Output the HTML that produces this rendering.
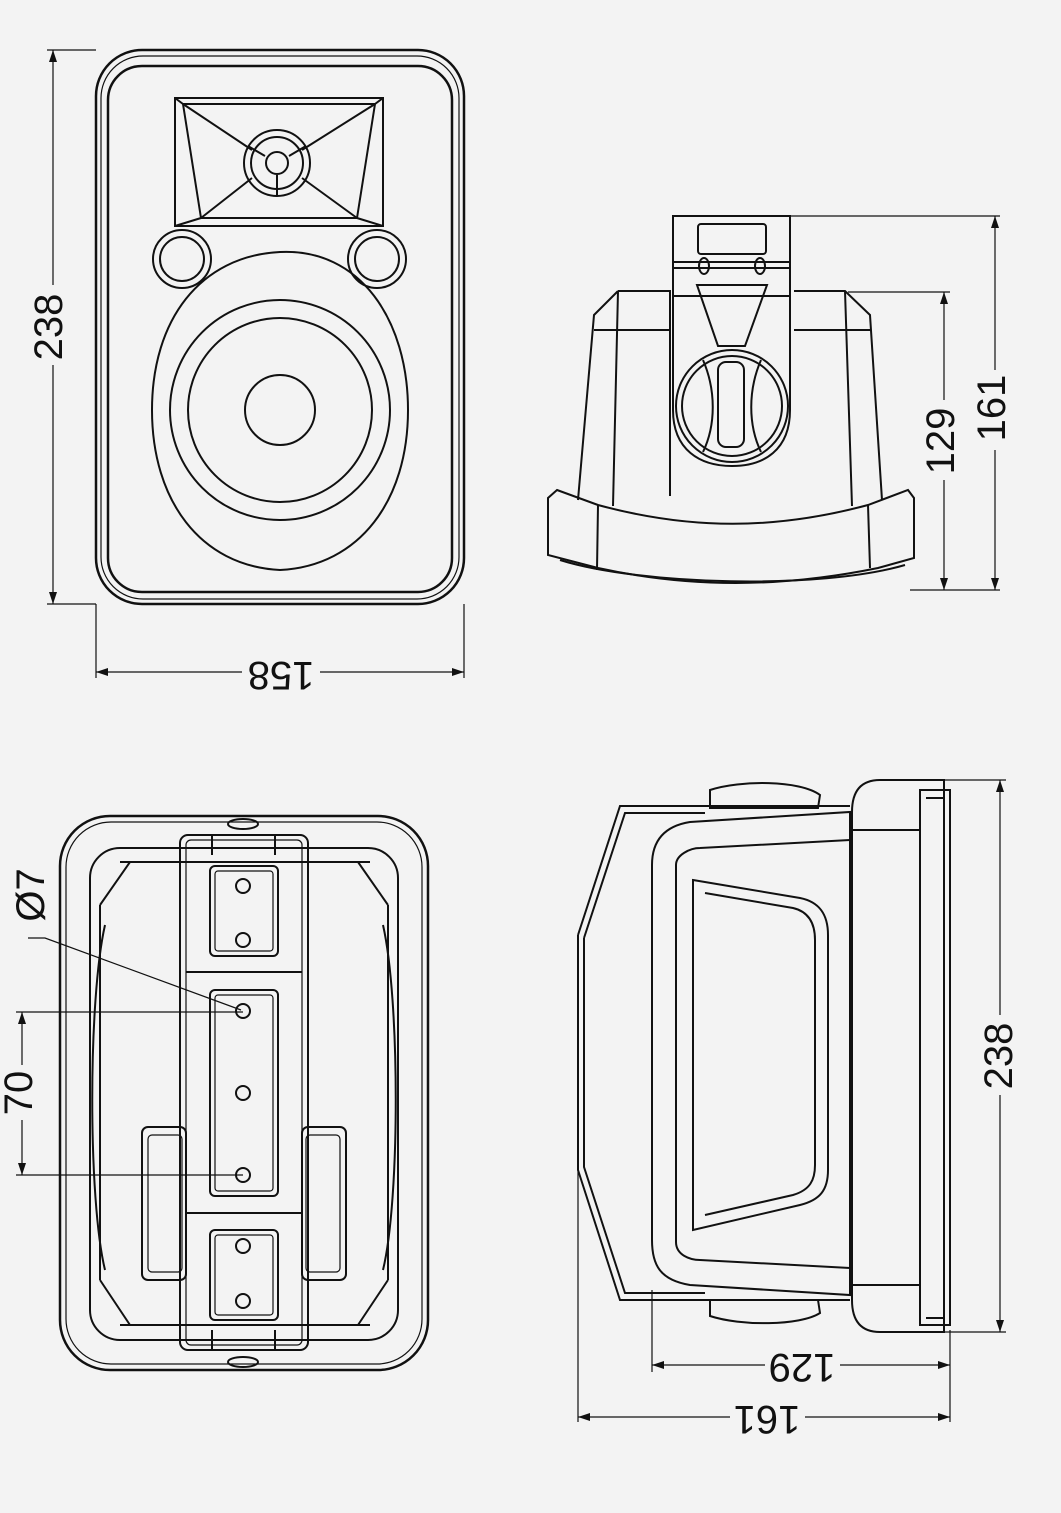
<!DOCTYPE html>
<html><head><meta charset="utf-8"><style>
html,body{margin:0;padding:0;background:#f3f3f3;}
svg{display:block}
text{font-family:"Liberation Sans",sans-serif;font-size:40px;fill:#111}
</style></head><body>
<svg width="1061" height="1513" viewBox="0 0 1061 1513" xmlns="http://www.w3.org/2000/svg">
<rect width="1061" height="1513" fill="#f3f3f3"/>
<g fill="none" stroke="#111" stroke-width="2">
<!-- FRONT VIEW -->
<rect x="96" y="50" width="368" height="554" rx="46" stroke-width="2.5"/>
<rect x="101" y="56" width="358" height="543" rx="42" stroke-width="1.2"/>
<rect x="108" y="66" width="344" height="526" rx="34" stroke-width="2.5"/>
<rect x="175" y="98" width="208" height="128"/>
<path d="M183 104 L375 104 L357 218 L201 218 Z"/>
<path d="M175 98 L183 104 M383 98 L375 104 M175 226 L201 218 M383 226 L357 218"/>
<path d="M183 104 L252 150 M375 104 L302 150 M201 218 L252 178 M357 218 L302 178"/>
<circle cx="277" cy="163" r="33"/><circle cx="277" cy="163" r="26"/><circle cx="277" cy="163" r="11"/>
<path d="M265 156 L248 146 M289 156 L306 146 M277 175 L277 195"/>
<circle cx="182" cy="259" r="29"/><circle cx="182" cy="259" r="22"/>
<circle cx="377" cy="259" r="29"/><circle cx="377" cy="259" r="22"/>
<path d="M280 252 C360 248 408 320 408 410 C408 500 360 566 280 570 C200 566 152 500 152 410 C152 320 200 256 280 252 Z"/>
<circle cx="280" cy="410" r="110"/><circle cx="280" cy="410" r="92"/><circle cx="280" cy="410" r="35"/>
<!-- dims front -->
<path d="M53 50 L53 604 M47 50 L96 50 M47 604 L96 604" stroke-width="1.2"/>
<path d="M53 50 l-4 12 l8 0 z M53 604 l-4 -12 l8 0 z" fill="#111" stroke="none"/>
<path d="M96 672 L464 672 M96 604 L96 678 M464 604 L464 678" stroke-width="1.2"/>
<path d="M96 672 l12 -4 l0 8 z M464 672 l-12 -4 l0 8 z" fill="#111" stroke="none"/>
<!-- SIDE VIEW TOP RIGHT -->
<rect x="673" y="216" width="117" height="80"/>
<rect x="698" y="224" width="68" height="30" rx="3"/>
<path d="M673 262 L790 262 M673 268 L790 268"/>
<ellipse cx="704" cy="266" rx="5" ry="8"/><ellipse cx="760" cy="266" rx="5" ry="8"/>
<path d="M697 285 L767 285 L745 346 L718 346 Z"/>
<path d="M673 296 L673 410 C673 450 700 466 732 466 C764 466 790 450 790 410 L790 296"/>
<circle cx="732" cy="406" r="56"/><circle cx="732" cy="406" r="50"/>
<rect x="718" y="362" width="26" height="85" rx="8"/>
<path d="M703 360 C716 390 716 425 703 452 M761 360 C748 390 748 425 761 452"/>
<path d="M618 291 L670 291 L670 496 M794 291 L845 291 L870 315 L882 500"/>
<path d="M618 291 L594 315 L578 500 M594 330 L670 330 M794 330 L870 330 M618 291 L613 506 M845 291 L852 506"/>
<path d="M557 490 L598 505 C690 530 775 530 868 505 L908 490 L914 498 L914 558 L878 568 C780 588 690 588 598 568 L548 555 L548 498 Z"/>
<path d="M598 505 L597 570 M868 505 L870 568 M560 560 C640 585 820 590 905 565"/>
<!-- dims -->
<path d="M790 216 L1000 216 M848 292 L950 292 M910 590 L1000 590 M944 292 L944 590 M995 216 L995 590" stroke-width="1.2"/>
<path d="M944 292 l-4 12 l8 0 z M944 590 l-4 -12 l8 0 z M995 216 l-4 12 l8 0 z M995 590 l-4 -12 l8 0 z" fill="#111" stroke="none"/>
<!-- BACK VIEW -->
<rect x="60" y="816" width="368" height="554" rx="50" stroke-width="2.5"/>
<rect x="66" y="822" width="356" height="542" rx="45" stroke-width="1.2"/>
<rect x="90" y="848" width="308" height="492" rx="30"/>
<path d="M120 862 L370 862 M100 905 L130 862 M388 905 L358 862 M120 1325 L370 1325 M100 1280 L130 1325 M388 1280 L358 1325 M100 905 L100 1280 M388 905 L388 1280"/>
<path d="M105 925 C88 1000 88 1200 105 1270 M383 925 C400 1000 400 1200 383 1270"/>
<rect x="180" y="835" width="128" height="515" rx="8"/>
<rect x="186" y="840" width="116" height="505" rx="5" stroke-width="1.2"/>
<path d="M186 972 L302 972 M186 1213 L302 1213"/>
<rect x="210" y="866" width="68" height="90" rx="5"/><rect x="215" y="871" width="58" height="80" rx="3" stroke-width="1.2"/>
<circle cx="243" cy="886" r="7"/><circle cx="243" cy="940" r="7"/>
<rect x="210" y="990" width="68" height="206" rx="5"/><rect x="215" y="995" width="58" height="196" rx="3" stroke-width="1.2"/>
<circle cx="243" cy="1011" r="7"/><circle cx="243" cy="1093" r="7"/><circle cx="243" cy="1175" r="7"/>
<rect x="210" y="1230" width="68" height="90" rx="5"/><rect x="215" y="1235" width="58" height="80" rx="3" stroke-width="1.2"/>
<circle cx="243" cy="1246" r="7"/><circle cx="243" cy="1301" r="7"/>
<rect x="142" y="1127" width="44" height="153" rx="6"/><rect x="148" y="1135" width="34" height="137" rx="4" stroke-width="1.2"/>
<rect x="302" y="1127" width="44" height="153" rx="6"/><rect x="306" y="1135" width="34" height="137" rx="4" stroke-width="1.2"/>
<path d="M212 835 L212 855 M275 835 L275 855 M212 1330 L212 1350 M275 1330 L275 1350"/>
<ellipse cx="243" cy="824" rx="15" ry="5"/><ellipse cx="243" cy="1362" rx="15" ry="5"/>
<path d="M22 1012 L22 1175 M16 1012 L243 1012 M16 1175 L243 1175 M28 938 L45 938 L241 1010" stroke-width="1.2"/>
<path d="M22 1012 l-4 12 l8 0 z M22 1175 l-4 -12 l8 0 z" fill="#111" stroke="none"/>
<!-- SIDE VIEW BOTTOM RIGHT -->
<path d="M578 935 L620 806 L850 806 M578 935 L578 1170 L620 1300 L850 1300"/>
<path d="M584 938 L625 813 L705 813 M584 938 L584 1167 L625 1293 L705 1293"/>
<path d="M710 790 C740 780 800 780 820 795 L818 808 L710 808 Z"/>
<path d="M710 1300 L818 1300 L820 1313 C800 1326 740 1326 710 1316 Z"/>
<path d="M690 822 L850 812 L850 1295 L690 1285 C660 1280 652 1265 652 1240 L652 865 C652 840 665 826 690 822 Z"/>
<path d="M700 848 L850 840 M700 1260 L850 1268 M676 865 L676 1242 C676 1255 690 1260 700 1260 M676 865 C676 855 690 848 700 848"/>
<path d="M693 880 L800 898 C820 902 828 915 828 935 L828 1170 C828 1190 820 1200 800 1205 L693 1230 Z"/>
<path d="M705 893 L793 908 C810 912 815 925 815 940 L815 1165 C815 1180 810 1190 793 1195 L705 1215"/>
<path d="M880 780 L944 780 L944 1332 L880 1332 C860 1332 852 1320 852 1300 L852 812 C852 792 860 780 880 780 Z"/>
<path d="M920 790 L950 790 L950 1325 L920 1325 Z M926 798 L944 798 L944 1318 L926 1318"/>
<path d="M852 830 L920 830 M852 1285 L920 1285"/>
<!-- dims -->
<path d="M944 780 L1006 780 M944 1332 L1006 1332 M1000 780 L1000 1332 M652 1290 L652 1372 M950 1330 L950 1422 M578 1170 L578 1422 M652 1365 L950 1365 M578 1417 L950 1417" stroke-width="1.2"/>
<path d="M1000 780 l-4 12 l8 0 z M1000 1332 l-4 -12 l8 0 z M652 1365 l12 -4 l0 8 z M950 1365 l-12 -4 l0 8 z M578 1417 l12 -4 l0 8 z M950 1417 l-12 -4 l0 8 z" fill="#111" stroke="none"/>
</g>
<!-- labels -->
<rect x="28" y="285" width="40" height="80" fill="#f3f3f3"/>
<text transform="translate(62,327) rotate(-90)" text-anchor="middle">238</text>
<rect x="242" y="660" width="78" height="30" fill="#f3f3f3"/>
<text transform="translate(281,662) rotate(180)" text-anchor="middle">158</text>
<rect x="920" y="400" width="40" height="80" fill="#f3f3f3"/>
<text transform="translate(954,441) rotate(-90)" text-anchor="middle">129</text>
<rect x="970" y="370" width="40" height="80" fill="#f3f3f3"/>
<text transform="translate(1005,408) rotate(-90)" text-anchor="middle">161</text>
<text transform="translate(44,895) rotate(-90)" text-anchor="middle">Ø7</text>
<rect x="5" y="1065" width="35" height="55" fill="#f3f3f3"/>
<text transform="translate(32,1093) rotate(-90)" text-anchor="middle">70</text>
<rect x="975" y="1015" width="40" height="80" fill="#f3f3f3"/>
<text transform="translate(1012,1056) rotate(-90)" text-anchor="middle">238</text>
<rect x="765" y="1352" width="75" height="30" fill="#f3f3f3"/>
<text transform="translate(802,1354) rotate(180)" text-anchor="middle">129</text>
<rect x="730" y="1404" width="75" height="30" fill="#f3f3f3"/>
<text transform="translate(767,1406) rotate(180)" text-anchor="middle">161</text>
</svg>
</body></html>
